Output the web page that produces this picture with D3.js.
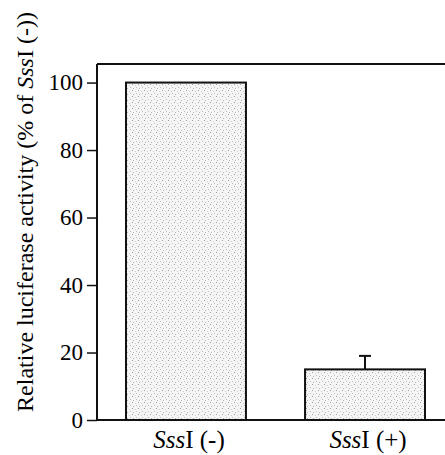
<!DOCTYPE html>
<html>
<head>
<meta charset="utf-8">
<script src="https://cdn.jsdelivr.net/npm/d3@7"></script>
<style>
  body { margin: 0; background: #fff; }
  text { font-family: "Liberation Serif", "DejaVu Serif", serif; fill: #000; }
</style>
</head>
<body>
<script>
var width = 445;
var height = 455;

// data
var categories = ['(-)', '(+)'];
var values = [100, 15];
var errors = [0, 4];
var yTicks = [0, 20, 40, 60, 80, 100];

var margin = {top: 64, left: 97, bottom: 35};
var plotRight = 454; // frame runs past the window edge

var svg = d3.select('body').append('svg')
  .attr('width', width).attr('height', height);

// stippled grey fill
var defs = svg.append('defs');
var pat = defs.append('pattern').attr('id', 'stipple')
  .attr('patternUnits', 'userSpaceOnUse').attr('width', 6).attr('height', 6);
pat.append('rect').attr('width', 6).attr('height', 6).attr('fill', '#f5f5f5');
[[0, 0, '#a0a0a0'], [3, 1, '#cfcfcf'], [1, 4, '#b4b4b4'], [4, 3, '#c0c0c0']]
  .forEach(function(d) {
    pat.append('rect').attr('x', d[0]).attr('y', d[1]).attr('width', 1).attr('height', 1).attr('fill', d[2]);
  });

var x = d3.scaleBand().domain(categories)
  .range([margin.left, plotRight]).paddingInner(0.33).paddingOuter(0.162);
var y = d3.scaleLinear().domain([0, 105.5]).range([height - margin.bottom, margin.top]);

// frame: top line
svg.append('line')
  .attr('x1', margin.left).attr('x2', plotRight)
  .attr('y1', margin.top).attr('y2', margin.top)
  .attr('stroke', '#111').attr('stroke-width', 2);

// bars
svg.selectAll('rect.bar').data(values).enter().append('rect')
  .attr('class', 'bar')
  .attr('x', function(d, i) { return x(categories[i]); })
  .attr('y', function(d) { return y(d); })
  .attr('width', x.bandwidth())
  .attr('height', function(d) { return y(0) - y(d); })
  .attr('fill', 'url(#stipple)')
  .attr('stroke', '#111').attr('stroke-width', 2);

// error bars (upper only)
var cap = 12;
values.forEach(function(v, i) {
  if (!errors[i]) return;
  var cx = x(categories[i]) + x.bandwidth() / 2;
  svg.append('line').attr('x1', cx).attr('x2', cx)
    .attr('y1', y(v)).attr('y2', y(v + errors[i]))
    .attr('stroke', '#111').attr('stroke-width', 2);
  svg.append('line').attr('x1', cx - cap / 2).attr('x2', cx + cap / 2)
    .attr('y1', y(v + errors[i])).attr('y2', y(v + errors[i]))
    .attr('stroke', '#111').attr('stroke-width', 2);
});

// y axis
var yAxis = svg.append('g').attr('transform', 'translate(' + margin.left + ',0)')
  .call(d3.axisLeft(y).tickValues(yTicks).tickSize(10).tickPadding(4))
  .attr('font-size', 23).attr('font-family', 'Liberation Serif, serif');
yAxis.select('.domain').attr('d', 'M0,' + y(0) + 'V' + margin.top)
  .attr('stroke', '#111').attr('stroke-width', 2);
yAxis.selectAll('.tick line').attr('stroke', '#111').attr('stroke-width', 1.5);
yAxis.selectAll('.tick text').attr('fill', '#000');

// x axis
var xAxis = svg.append('g').attr('transform', 'translate(0,' + y(0) + ')')
  .call(d3.axisBottom(x).tickSize(0).tickPadding(10).tickFormat(''))
  .attr('font-size', 25).attr('font-family', 'Liberation Serif, serif');
xAxis.select('.domain').attr('d', 'M' + margin.left + ',0H' + plotRight)
  .attr('stroke', '#111').attr('stroke-width', 2);
xAxis.selectAll('.tick').each(function(d) {
  var t = d3.select(this).append('text')
    .attr('x', 3).attr('y', 28).attr('text-anchor', 'middle');
  t.append('tspan').style('font-style', 'italic').text('Sss');
  t.append('tspan').text('I ' + d);
});

// y title
var title = svg.append('text')
  .attr('transform', 'translate(33,' + 212 + ') rotate(-90)')
  .attr('text-anchor', 'middle')
  .style('font-size', '24px');
title.append('tspan').text('Relative luciferase activity (% of ');
title.append('tspan').style('font-style', 'italic').text('Sss');
title.append('tspan').text('I (-))');
</script>
</body>
</html>
